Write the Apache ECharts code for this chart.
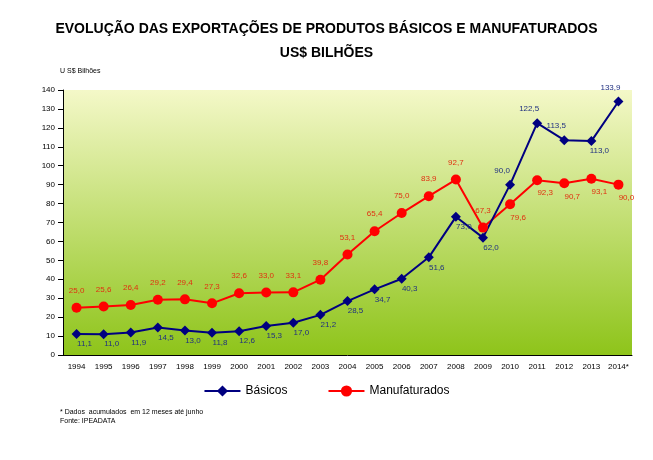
<!DOCTYPE html>
<html>
<head>
<meta charset="utf-8">
<script src="https://cdn.jsdelivr.net/npm/echarts@6/dist/echarts.min.js"></script>
<style>body{margin:0;background:#fff}#c{width:653px;height:460px}</style>
</head>
<body>
<div id="c"></div>
<script>
const years = ['1994','1995','1996','1997','1998','1999','2000','2001','2002','2003','2004','2005','2006','2007','2008','2009','2010','2011','2012','2013','2014*'];
const basicos = [11.1,11.0,11.9,14.5,13.0,11.8,12.6,15.3,17.0,21.2,28.5,34.7,40.3,51.6,73.0,62.0,90.0,122.5,113.5,113.0,133.9];
const manuf = [25.0,25.6,26.4,29.2,29.4,27.3,32.6,33.0,33.1,39.8,53.1,65.4,75.0,83.9,92.7,67.3,79.6,92.3,90.7,93.1,90.0];
const basicosAbove = [16, 17, 18, 20]; // points labelled above
const manufBelow = [16, 17, 18, 19, 20]; // points labelled below

const fmt = v => v.toFixed(1).replace('.', ',');
const chart = echarts.init(document.getElementById('c'));
chart.setOption({
  title: {
    text: 'EVOLUÇÃO DAS EXPORTAÇÕES DE PRODUTOS BÁSICOS E MANUFATURADOS\nUS$ BILHÕES',
    left: 'center', top: 12,
    textStyle: { fontFamily: 'Liberation Sans', fontSize: 14, fontWeight: 'bold', lineHeight: 24, color: '#000' }
  },
  graphic: [
    { type: 'text', left: 60, top: 68, style: { text: 'U S$ Bilhões', font: '7px Liberation Sans', fill: '#000' } },
    { type: 'text', left: 60, top: 408, style: { text: '* Dados  acumulados  em 12 meses até junho\nFonte: IPEADATA', font: '7px Liberation Sans', fill: '#000', lineHeight: 9 } }
  ],
  legend: {
    bottom: 58, left: 'center', itemGap: 40, itemWidth: 36,
    textStyle: { fontFamily: 'Liberation Sans', fontSize: 12, color: '#000' },
    data: ['Básicos', 'Manufaturados']
  },
  grid: {
    left: 63, right: 21, top: 90, bottom: 105, show: true, borderWidth: 0,
    backgroundColor: new echarts.graphic.LinearGradient(0, 0, 0, 1, [
      { offset: 0, color: '#f4f8c8' }, { offset: 1, color: '#8ec41a' }])
  },
  xAxis: {
    type: 'category', data: years, boundaryGap: true,
    axisLine: { lineStyle: { color: '#000' } },
    axisTick: { interval: 0, lineStyle: { color: '#000' } },
    axisLabel: { interval: 0, fontSize: 8, fontFamily: 'Liberation Sans', color: '#000' }
  },
  yAxis: {
    type: 'value', min: 0, max: 140, interval: 10,
    axisLine: { show: true, lineStyle: { color: '#000' } },
    axisTick: { show: true, lineStyle: { color: '#000' } },
    axisLabel: { fontSize: 8, fontFamily: 'Liberation Sans', color: '#000' },
    splitLine: { show: false }
  },
  series: [
    {
      name: 'Manufaturados', type: 'line', data: manuf.map((v, i) => ({
        value: v,
        label: manufBelow.includes(i) ? { position: 'bottom', offset: [8, -4] } : { position: 'top' }
      })),
      symbol: 'circle', symbolSize: 10,
      lineStyle: { color: '#ff0000', width: 2 }, itemStyle: { color: '#ff0000' },
      label: { show: true, distance: 8, formatter: p => fmt(p.value), fontSize: 8, color: '#e03010', fontFamily: 'Liberation Sans' }
    },
    {
      name: 'Básicos', type: 'line', data: basicos.map((v, i) => ({
        value: v,
        label: basicosAbove.includes(i) ? { position: 'top', offset: [-8, 0] } : { position: 'bottom', offset: [8, -4] }
      })),
      symbol: 'diamond', symbolSize: 10,
      lineStyle: { color: '#000080', width: 2 }, itemStyle: { color: '#000080' },
      label: { show: true, formatter: p => fmt(p.value), fontSize: 8, color: '#203080', fontFamily: 'Liberation Sans' }
    }
  ]
});
</script>
</body>
</html>
